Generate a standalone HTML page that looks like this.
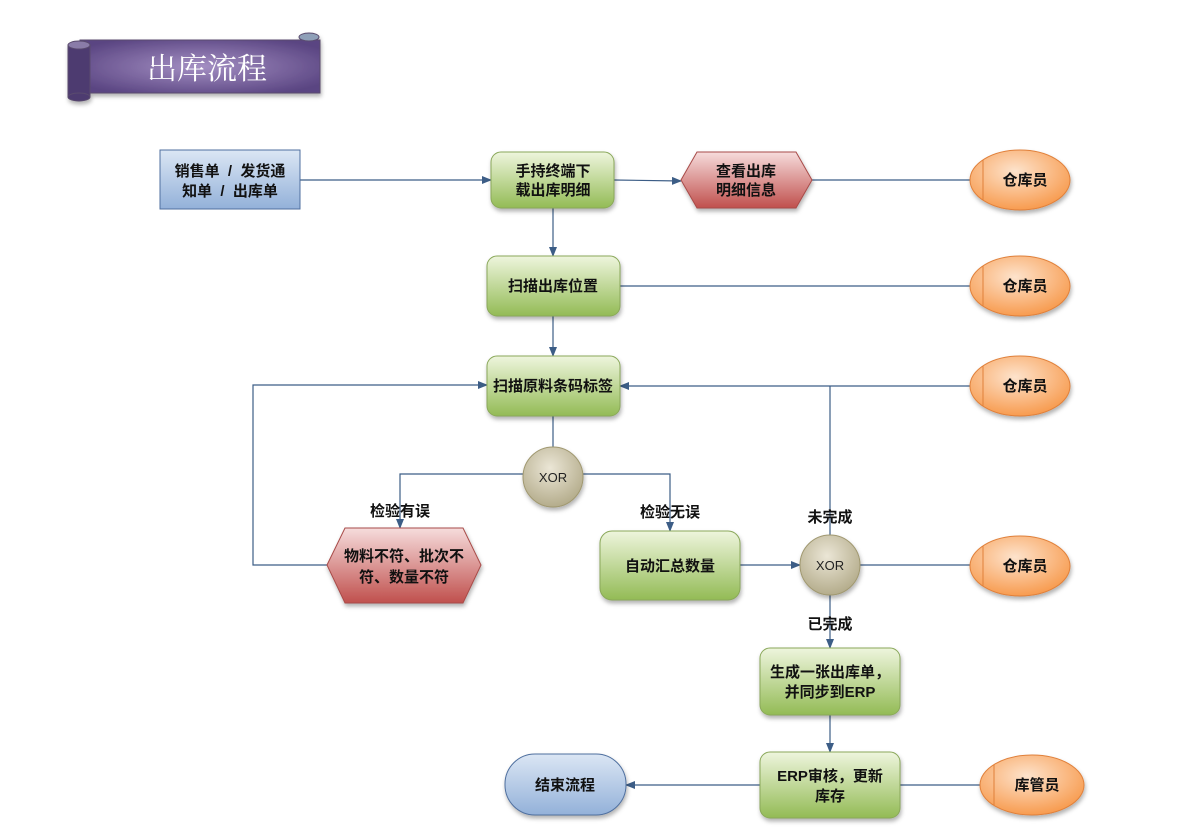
<!DOCTYPE html>
<html><head><meta charset="utf-8"><style>
html,body{margin:0;padding:0;background:#fff;}
svg{display:block;font-family:"Liberation Sans","Noto Sans CJK SC",sans-serif;}
.t{font-size:15px;font-weight:bold;fill:#111;text-anchor:middle;}
.l{stroke:#3c5d86;stroke-width:1.2;fill:none;}
</style></head><body>
<svg width="1188" height="840" viewBox="0 0 1188 840" xmlns="http://www.w3.org/2000/svg">
<defs>
<marker id="a" markerWidth="10" markerHeight="8" refX="9" refY="4" orient="auto" markerUnits="userSpaceOnUse"><path d="M0,0 L10,4 L0,8 z" fill="#3c5d86"/></marker>
<linearGradient id="g" x1="0" y1="0" x2="0" y2="1"><stop offset="0" stop-color="#eef5dd"/><stop offset="1" stop-color="#93bb55"/></linearGradient>
<linearGradient id="r" x1="0" y1="0" x2="0" y2="1"><stop offset="0" stop-color="#f6dcdc"/><stop offset="1" stop-color="#c0504d"/></linearGradient>
<linearGradient id="b" x1="0" y1="0" x2="0" y2="1"><stop offset="0" stop-color="#dbe6f4"/><stop offset="1" stop-color="#93b1d9"/></linearGradient>
<radialGradient id="o" cx="0.45" cy="0.35" r="0.7"><stop offset="0" stop-color="#fde3cc"/><stop offset="1" stop-color="#f79646"/></radialGradient>
<radialGradient id="x" cx="0.45" cy="0.35" r="0.7"><stop offset="0" stop-color="#ebe6d6"/><stop offset="1" stop-color="#b0a886"/></radialGradient>
<radialGradient id="p" cx="0.5" cy="0.5" r="0.6"><stop offset="0" stop-color="#a48fc3"/><stop offset="1" stop-color="#5a4582"/></radialGradient>
<filter id="s" x="-20%" y="-20%" width="140%" height="150%"><feDropShadow dx="1" dy="3" stdDeviation="2" flood-opacity="0.3"/></filter>
</defs>

<g filter="url(#s)">
<rect x="80" y="40" width="240" height="53" fill="url(#p)" stroke="#5a4c6e"/>
<ellipse cx="309" cy="37" rx="10" ry="4" fill="#8fa0b8" stroke="#5a4c6e"/>
<rect x="68" y="45" width="22" height="52" fill="#4d3a70" stroke="#5a4c6e"/>
<ellipse cx="79" cy="45" rx="11" ry="4" fill="#8a7ba8" stroke="#5a4c6e"/>
<ellipse cx="79" cy="97" rx="11" ry="4" fill="#4d3a70" stroke="#5a4c6e"/>
</g>
<text x="207" y="79" font-size="30" fill="#fff" text-anchor="middle" font-family="'Liberation Serif','Noto Serif CJK SC',serif">出库流程</text>

<path class="l" d="M300,180 H491" marker-end="url(#a)"/>
<path class="l" d="M614,180 L681,181" marker-end="url(#a)"/>
<path class="l" d="M812,180 H970"/>
<path class="l" d="M553,208 V256" marker-end="url(#a)"/>
<path class="l" d="M620,286 H970"/>
<path class="l" d="M553,316 V356" marker-end="url(#a)"/>
<path class="l" d="M970,386 H620" marker-end="url(#a)"/>
<path class="l" d="M553,416 V447"/>
<path class="l" d="M523,474 H400 V528" marker-end="url(#a)"/>
<path class="l" d="M583,474 H670 V531" marker-end="url(#a)"/>
<path class="l" d="M327,565 H253 V385 H487" marker-end="url(#a)"/>
<path class="l" d="M740,565 H800" marker-end="url(#a)"/>
<path class="l" d="M860,565 H970"/>
<path class="l" d="M830,535 V386"/>
<path class="l" d="M830,595 V648" marker-end="url(#a)"/>
<path class="l" d="M830,715 V752" marker-end="url(#a)"/>
<path class="l" d="M980,785 H900"/>
<path class="l" d="M760,785 H626" marker-end="url(#a)"/>

<rect x="160" y="150" width="140" height="59" fill="url(#b)" stroke="#4f6f9f"/>
<text class="t" x="230" y="176" xml:space="preserve">销售单  /  发货通</text>
<text class="t" x="230" y="196" xml:space="preserve">知单  /  出库单</text>

<g filter="url(#s)">
<rect x="491" y="152" width="123" height="56" rx="10" fill="url(#g)" stroke="#8aa85a"/>
<rect x="487" y="256" width="133" height="60" rx="10" fill="url(#g)" stroke="#8aa85a"/>
<rect x="487" y="356" width="133" height="60" rx="10" fill="url(#g)" stroke="#8aa85a"/>
<rect x="600" y="531" width="140" height="69" rx="12" fill="url(#g)" stroke="#8aa85a"/>
<rect x="760" y="648" width="140" height="67" rx="10" fill="url(#g)" stroke="#8aa85a"/>
<rect x="760" y="752" width="140" height="66" rx="10" fill="url(#g)" stroke="#8aa85a"/>
<polygon points="681,180 697,152 796,152 812,180 796,208 697,208" fill="url(#r)" stroke="#a84b48"/>
<polygon points="327,565 345,528 463,528 481,565 463,603 345,603" fill="url(#r)" stroke="#a84b48"/>
<circle cx="553" cy="477" r="30" fill="url(#x)" stroke="#a09870"/>
<circle cx="830" cy="565" r="30" fill="url(#x)" stroke="#a09870"/>
<rect x="505" y="754" width="121" height="61" rx="30" fill="url(#b)" stroke="#4f6f9f"/>
<ellipse cx="1020" cy="180" rx="50" ry="30" fill="url(#o)" stroke="#e0803a"/>
<ellipse cx="1020" cy="286" rx="50" ry="30" fill="url(#o)" stroke="#e0803a"/>
<ellipse cx="1020" cy="386" rx="50" ry="30" fill="url(#o)" stroke="#e0803a"/>
<ellipse cx="1020" cy="566" rx="50" ry="30" fill="url(#o)" stroke="#e0803a"/>
<ellipse cx="1032" cy="785" rx="52" ry="30" fill="url(#o)" stroke="#e0803a"/>
</g>
<g stroke="#e0803a" stroke-width="1">
<line x1="983" y1="160" x2="983" y2="200"/>
<line x1="983" y1="266" x2="983" y2="306"/>
<line x1="983" y1="366" x2="983" y2="406"/>
<line x1="983" y1="546" x2="983" y2="586"/>
<line x1="994" y1="765" x2="994" y2="805"/>
</g>

<text class="t" x="553" y="176">手持终端下</text>
<text class="t" x="553" y="195">载出库明细</text>
<text class="t" x="746" y="176">查看出库</text>
<text class="t" x="746" y="195">明细信息</text>
<text class="t" x="553" y="291" font-size="14">扫描出库位置</text>
<text class="t" x="553" y="391" font-size="14">扫描原料条码标签</text>
<text x="553" y="482" font-size="13" text-anchor="middle" fill="#222">XOR</text>
<text x="830" y="570" font-size="13" text-anchor="middle" fill="#222">XOR</text>
<text class="t" x="400" y="516">检验有误</text>
<text class="t" x="670" y="517">检验无误</text>
<text class="t" x="830" y="522">未完成</text>
<text class="t" x="830" y="629">已完成</text>
<text class="t" x="404" y="561">物料不符、批次不</text>
<text class="t" x="404" y="582">符、数量不符</text>
<text class="t" x="670" y="571">自动汇总数量</text>
<text class="t" x="830" y="677">生成一张出库单，</text>
<text class="t" x="830" y="697">并同步到ERP</text>
<text class="t" x="830" y="781">ERP审核，更新</text>
<text class="t" x="830" y="801">库存</text>
<text class="t" x="565" y="790">结束流程</text>
<text class="t" x="1025" y="185">仓库员</text>
<text class="t" x="1025" y="291">仓库员</text>
<text class="t" x="1025" y="391">仓库员</text>
<text class="t" x="1025" y="571">仓库员</text>
<text class="t" x="1037" y="790">库管员</text>
</svg>
</body></html>
